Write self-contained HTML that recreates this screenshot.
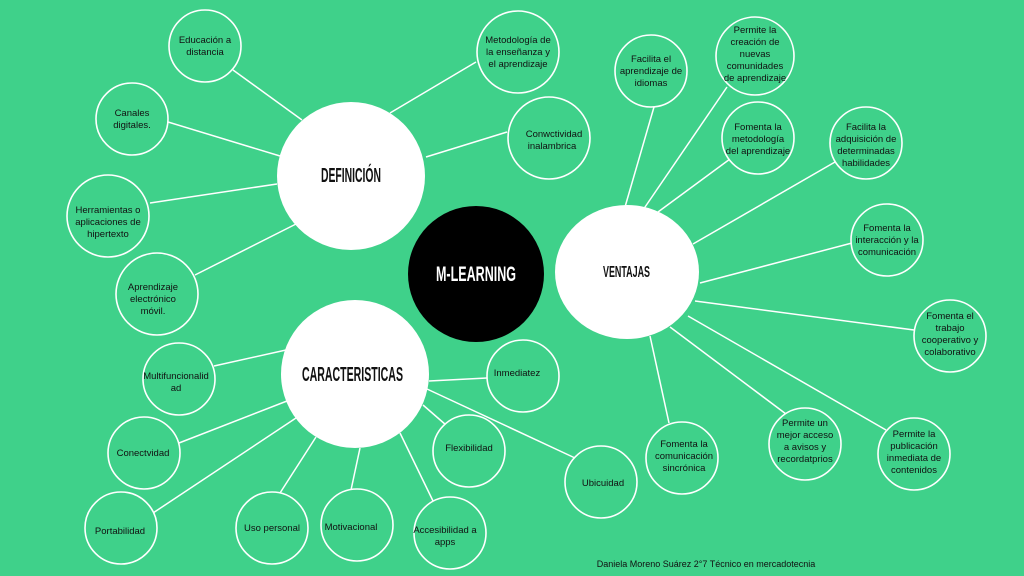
<!DOCTYPE html>
<html><head><meta charset="utf-8"><style>
html,body{margin:0;padding:0;background:#3fd18a;}
svg{display:block}
.s{font-family:"Liberation Sans",sans-serif;font-size:9.5px;fill:#111;text-anchor:middle}
.b{font-family:"Liberation Sans Narrow","Liberation Sans",sans-serif;font-size:20px;fill:#111;font-weight:bold}
</style></head><body>
<svg width="1024" height="576" viewBox="0 0 1024 576" xmlns="http://www.w3.org/2000/svg">
<rect width="1024" height="576" fill="#3fd18a"/>
<g stroke="#fff" stroke-width="1.5">
<line x1="233" y1="70" x2="302" y2="120"/>
<line x1="476" y1="62" x2="390" y2="113"/>
<line x1="507" y1="132" x2="426" y2="157"/>
<line x1="168" y1="122" x2="280" y2="156"/>
<line x1="150" y1="203" x2="277" y2="184"/>
<line x1="195" y1="275" x2="296" y2="224"/>
<line x1="654" y1="107" x2="625" y2="207"/>
<line x1="727" y1="87" x2="643" y2="210"/>
<line x1="730" y1="159" x2="658" y2="212"/>
<line x1="835" y1="162" x2="693" y2="244"/>
<line x1="852" y1="243" x2="700" y2="283"/>
<line x1="914" y1="330" x2="695" y2="301"/>
<line x1="886" y1="430" x2="688" y2="316"/>
<line x1="786" y1="414" x2="670" y2="327"/>
<line x1="669" y1="423" x2="650" y2="336"/>
<line x1="214" y1="366" x2="286" y2="350"/>
<line x1="179" y1="443" x2="287" y2="401"/>
<line x1="150" y1="515" x2="296" y2="418"/>
<line x1="280" y1="493" x2="316" y2="437"/>
<line x1="351" y1="490" x2="360" y2="448"/>
<line x1="434" y1="503" x2="400" y2="433"/>
<line x1="446" y1="425" x2="423" y2="405"/>
<line x1="487" y1="378" x2="429" y2="381"/>
<line x1="575" y1="458" x2="427" y2="389"/>
</g>
<g stroke="#fff" stroke-width="1.6" fill="#3fd18a">
<circle cx="205" cy="46" r="36"/>
<circle cx="518" cy="52" r="41"/>
<circle cx="549" cy="138" r="41"/>
<circle cx="132" cy="119" r="36"/>
<circle cx="108" cy="216" r="41"/>
<circle cx="157" cy="294" r="41"/>
<circle cx="651" cy="71" r="36"/>
<circle cx="755" cy="56" r="39"/>
<circle cx="758" cy="138" r="36"/>
<circle cx="866" cy="143" r="36"/>
<circle cx="887" cy="240" r="36"/>
<circle cx="950" cy="336" r="36"/>
<circle cx="914" cy="454" r="36"/>
<circle cx="805" cy="444" r="36"/>
<circle cx="682" cy="458" r="36"/>
<circle cx="601" cy="482" r="36"/>
<circle cx="523" cy="376" r="36"/>
<circle cx="469" cy="451" r="36"/>
<circle cx="450" cy="533" r="36"/>
<circle cx="357" cy="525" r="36"/>
<circle cx="272" cy="528" r="36"/>
<circle cx="121" cy="528" r="36"/>
<circle cx="144" cy="453" r="36"/>
<circle cx="179" cy="379" r="36"/>
</g>
<circle cx="351" cy="176" r="74" fill="#fff"/>
<circle cx="355" cy="374" r="74" fill="#fff"/>
<ellipse cx="627" cy="272" rx="72" ry="67" fill="#fff"/>
<circle cx="476" cy="274" r="68" fill="#000"/>
<g class="b">
<text x="321" y="182" textLength="60" lengthAdjust="spacingAndGlyphs">DEFINICIÓN</text>
<text x="302" y="381" textLength="101" lengthAdjust="spacingAndGlyphs">CARACTERISTICAS</text>
<text x="603" y="277" textLength="47" lengthAdjust="spacingAndGlyphs" style="font-size:16px">VENTAJAS</text>
<text x="436" y="281" textLength="80" lengthAdjust="spacingAndGlyphs" style="fill:#fff;font-size:21px">M-LEARNING</text>
</g>
<g class="s">
<text x="205" y="43">Educación a</text><text x="205" y="55">distancia</text>
<text x="518" y="43">Metodología de</text><text x="518" y="55">la enseñanza y</text><text x="518" y="67">el aprendizaje</text>
<text x="554" y="137">Conwctividad</text><text x="552" y="149">inalambrica</text>
<text x="132" y="116">Canales</text><text x="132" y="128">digitales.</text>
<text x="108" y="213">Herramientas o</text><text x="108" y="225">aplicaciones de</text><text x="108" y="237">hipertexto</text>
<text x="153" y="290">Aprendizaje</text><text x="153" y="302">electrónico</text><text x="153" y="314">móvil.</text>
<text x="651" y="62">Facilita el</text><text x="651" y="74">aprendizaje de</text><text x="651" y="86">idiomas</text>
<text x="755" y="33">Permite la</text><text x="755" y="45">creación de</text><text x="755" y="57">nuevas</text><text x="755" y="69">comunidades</text><text x="755" y="81">de aprendizaje</text>
<text x="758" y="130">Fomenta la</text><text x="758" y="142">metodología</text><text x="758" y="154">del aprendizaje</text>
<text x="866" y="130">Facilita la</text><text x="866" y="142">adquisición de</text><text x="866" y="154">determinadas</text><text x="866" y="166">habilidades</text>
<text x="887" y="231">Fomenta la</text><text x="887" y="243">interacción y la</text><text x="887" y="255">comunicación</text>
<text x="950" y="319">Fomenta el</text><text x="950" y="331">trabajo</text><text x="950" y="343">cooperativo y</text><text x="950" y="355">colaborativo</text>
<text x="914" y="437">Permite la</text><text x="914" y="449">publicación</text><text x="914" y="461">inmediata de</text><text x="914" y="473">contenidos</text>
<text x="805" y="426">Permite un</text><text x="805" y="438">mejor acceso</text><text x="805" y="450">a avisos y</text><text x="805" y="462">recordatprios</text>
<text x="684" y="447">Fomenta la</text><text x="684" y="459">comunicación</text><text x="684" y="471">sincrónica</text>
<text x="603" y="486">Ubicuidad</text>
<text x="517" y="376">Inmediatez</text>
<text x="469" y="451">Flexibilidad</text>
<text x="445" y="533">Accesibilidad a</text><text x="445" y="545">apps</text>
<text x="351" y="530">Motivacional</text>
<text x="272" y="531">Uso personal</text>
<text x="120" y="534">Portabilidad</text>
<text x="143" y="456">Conectvidad</text>
<text x="176" y="379">Multifuncionalid</text><text x="176" y="391">ad</text>
<text x="706" y="567" style="font-size:9px">Daniela Moreno Suárez  2°7 Técnico en mercadotecnia</text>
</g>
</svg>
</body></html>
